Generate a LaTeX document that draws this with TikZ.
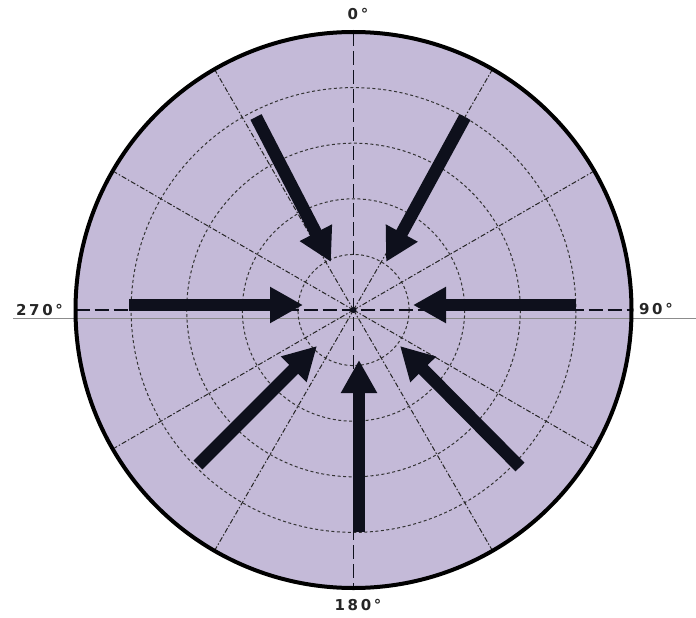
\documentclass[tikz,border=0pt]{standalone}
\usepackage{fontspec}
\newfontfamily\labfont[LetterSpace=18]{DejaVu Sans}
\usetikzlibrary{arrows.meta}
\definecolor{lav}{RGB}{196,186,216}
\definecolor{ink}{RGB}{14,16,28}
\begin{document}
\begin{tikzpicture}[x=1pt,y=-1pt,
  bigarrow/.style={draw=ink, line width=12.5pt, -{Triangle[length=33pt,width=34pt]}},
  ring/.style={draw=black!80, line width=1pt, dash pattern=on 3pt off 2.5pt},
  spoke/.style={draw=black!85, line width=1pt, dash pattern=on 5pt off 2pt on 1.5pt off 2pt},
  axisline/.style={draw=ink, line width=1.3pt, dash pattern=on 14pt off 5pt},
  deg/.style={font=\labfont\bfseries\fontsize{15}{15}\selectfont, anchor=base, inner sep=0pt, text=black!85}]
\useasboundingbox (0,0) rectangle (696,618);
\coordinate (c) at (353.5,310);
\fill[lav] (c) circle[radius=278];
% reference baseline
\coordinate (gl) at (13,318);
\coordinate (gr) at (696,318);
\draw[black!45, line width=0.8pt] (gl) -- (gr);
% rings
\foreach \r in {55.6,111.2,166.8,222.4} \draw[ring] (c) circle[radius=\r];
% spokes
\foreach \a in {30,60,120,150,210,240,300,330} \draw[spoke] (c) -- ++(\a:276);
% axes
\coordinate (at) at (353.5,32);
\coordinate (ab) at (353.5,588);
\coordinate (al) at (75.5,310);
\coordinate (ar) at (631.5,310);
\draw[axisline] (at) -- (ab);
\draw[axisline] (al) -- (ar);
\fill[ink] (c) circle[radius=3];
% outer border
\draw[black, line width=4pt] (c) circle[radius=278];
% arrows
\coordinate (t1) at (256,117);  \coordinate (h1) at (331,262);
\coordinate (t2) at (465,117);  \coordinate (h2) at (386,262);
\coordinate (t3) at (129,305);  \coordinate (h3) at (303,305);
\coordinate (t4) at (576,305);  \coordinate (h4) at (413,305);
\coordinate (t5) at (198,465);  \coordinate (h5) at (317,346);
\coordinate (t6) at (359,532);  \coordinate (h6) at (359,360);
\coordinate (t7) at (520,467);  \coordinate (h7) at (400,346);
\foreach \i in {1,...,7} \draw[bigarrow] (t\i) -- (h\i);
% labels
\node[deg] (l0) at (358,20) {0°};
\node[deg] (l90) at (656,314) {90°};
\node[deg] (l180) at (358,610) {180°};
\node[deg] (l270) at (39.5,315) {270°};
\end{tikzpicture}
\end{document}
